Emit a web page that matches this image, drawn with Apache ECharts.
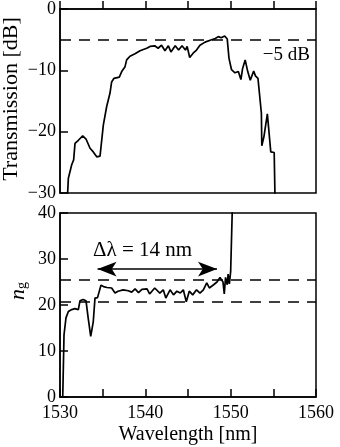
<!DOCTYPE html>
<html>
<head>
<meta charset="utf-8">
<script src="https://cdn.jsdelivr.net/npm/echarts@6/dist/echarts.min.js"></script>
<style>
    html, body { margin: 0; padding: 0; background: #fff; }
    #chart { width: 340px; height: 447px; }
</style>
</head>
<body>
<div id="chart"></div>
<script>
    // transmission spectrum (top panel)
    var topWl = [1530.86, 1530.98, 1531.37, 1531.6, 1531.76, 1532.15, 1532.66, 1533.05, 1533.52, 1533.9, 1534.3, 1534.69,
        1535.08, 1535.47, 1535.86, 1536.05, 1536.33, 1536.95, 1537.23, 1537.62, 1537.81, 1538.2, 1538.79, 1539.38,
        1540.16, 1540.55, 1541.1, 1541.5, 1541.9, 1542.3, 1542.7, 1543.0, 1543.5, 1543.9, 1544.3, 1544.7, 1544.9,
        1545.2, 1545.6, 1546.0, 1546.4, 1547.0, 1547.6, 1548.2, 1548.55, 1548.9, 1549.3, 1549.6, 1549.8, 1550.1,
        1550.5, 1550.9, 1551.2, 1551.4, 1551.7, 1552.0, 1552.3, 1552.7, 1552.9, 1553.2, 1553.6, 1553.65, 1553.9,
        1554.3, 1554.7, 1555.1, 1555.2];
    var topDb = [-31, -27.6, -25.4, -24.6, -21.9, -21.4, -20.7, -21.2, -22.7, -23.3, -24.1, -24.0,
        -18.9, -15.9, -13.7, -11.9, -11.3, -11.1, -10.2, -9.4, -8.3, -7.7, -7.3, -6.8,
        -6.4, -6.1, -6.0, -6.4, -5.9, -6.8, -6.0, -7.0, -6.0, -6.7, -6.0, -6.7, -6.1,
        -7.9, -7.2, -6.7, -5.9, -5.4, -5.1, -4.8, -4.5, -4.7, -4.4, -4.9, -8.0, -9.9,
        -10.4, -10.2, -11.5, -9.7, -8.3, -10.2, -11.6, -10.1, -10.9, -11.3, -17.0, -22.3, -20.8,
        -17.1, -23.3, -23.4, -31];

    // group index (bottom panel)
    var botWl = [1530.31, 1530.47, 1530.7, 1530.98, 1531.37, 1531.76, 1532.15, 1532.34, 1532.7, 1533.05, 1533.3, 1533.6,
        1533.9, 1534.1, 1534.4, 1534.6, 1534.8, 1535.1, 1535.5, 1536.05, 1536.45, 1536.8, 1537.4, 1538.0, 1538.4,
        1538.8, 1539.2, 1539.6, 1540.2, 1540.5, 1541.1, 1541.7, 1542.1, 1542.4, 1542.9, 1543.3, 1543.7, 1544.1,
        1544.45, 1544.8, 1545.15, 1545.55, 1546.0, 1546.4, 1546.8, 1547.2, 1547.5, 1548.0, 1548.4, 1548.75, 1549.1,
        1549.25, 1549.4, 1549.6, 1549.7, 1549.85, 1550.0, 1550.25];
    var botNg = [-1, 13.5, 17.2, 18.6, 19.0, 19.2, 19.0, 20.9, 21.2, 20.9, 17.2, 13.2,
        16.4, 21.5, 21.6, 21.9, 24.3, 24.0, 23.8, 23.7, 22.6, 23.0, 23.3, 23.1, 22.8,
        23.5, 22.7, 23.4, 23.5, 22.4, 23.7, 22.6, 23.3, 21.5, 23.3, 22.2, 23.0, 22.6,
        23.3, 20.7, 23.0, 22.2, 23.3, 22.6, 23.3, 24.8, 23.7, 24.4, 25.0, 26.0, 25.0,
        22.4, 26.0, 24.4, 26.7, 24.6, 27.3, 45];

    var topRef = -5;                 // dB
    var ngBand = [25.4, 20.7];       // dashed n_g levels
    var arrowRange = [1534.4, 1548.4];
    var arrowLevel = 27.8;

    function pairs(xs, ys) {
        return xs.map(function (x, i) { return [x, ys[i]]; });
    }
    function minus(v) {
        return String(v).replace('-', '\u2212');
    }

    var font = 'Liberation Serif';
    var axisLineStyle = { color: '#000', width: 1.5 };
    var dashed = { color: '#000', width: 1.5, type: [11, 8] };

    var chart = echarts.init(document.getElementById('chart'));
    chart.setOption({
        animation: false,
        textStyle: { fontFamily: font, color: '#000' },
        grid: [
            { left: 60, top: 9, width: 256, height: 184, outerBoundsMode: 'none', show: true, borderColor: '#000', borderWidth: 1.5 },
            { left: 60, top: 213, width: 256, height: 184, outerBoundsMode: 'none', show: true, borderColor: '#000', borderWidth: 1.5 }
        ],
        xAxis: [
            {
                gridIndex: 0, type: 'value', min: 1530, max: 1560, interval: 5,
                axisLine: { lineStyle: axisLineStyle },
                axisTick: { inside: true, length: 8, lineStyle: axisLineStyle },
                axisLabel: { show: false },
                splitLine: { show: false }
            },
            {
                gridIndex: 1, type: 'value', min: 1530, max: 1560, interval: 5,
                name: 'Wavelength [nm]', nameLocation: 'middle', nameGap: 28,
                nameTextStyle: { fontFamily: font, fontSize: 20, color: '#000' },
                axisLine: { lineStyle: axisLineStyle },
                axisTick: { inside: true, length: 8, lineStyle: axisLineStyle },
                axisLabel: {
                    fontFamily: font, fontSize: 18, color: '#000', margin: 7,
                    formatter: function (v) { return v % 10 === 0 ? v : ''; }
                },
                splitLine: { show: false }
            }
        ],
        yAxis: [
            {
                gridIndex: 0, type: 'value', min: -30, max: 0, interval: 10,
                axisLine: { lineStyle: axisLineStyle },
                axisTick: { inside: true, length: 8, lineStyle: axisLineStyle },
                axisLabel: { fontFamily: font, fontSize: 18, color: '#000', margin: 4, formatter: minus },
                splitLine: { show: false }
            },
            {
                gridIndex: 1, type: 'value', min: 0, max: 40, interval: 10,
                axisLine: { lineStyle: axisLineStyle },
                axisTick: { inside: true, length: 8, lineStyle: axisLineStyle },
                axisLabel: { fontFamily: font, fontSize: 18, color: '#000', margin: 4 },
                splitLine: { show: false }
            }
        ],
        series: [
            {
                type: 'line', xAxisIndex: 0, yAxisIndex: 0,
                data: pairs(topWl, topDb), showSymbol: false, clip: true,
                lineStyle: { color: '#000', width: 1.7 },
                markLine: {
                    silent: true, symbol: 'none',
                    label: { show: false },
                    lineStyle: dashed,
                    data: [{ yAxis: topRef }]
                }
            },
            {
                type: 'line', xAxisIndex: 1, yAxisIndex: 1,
                data: pairs(botWl, botNg), showSymbol: false, clip: true,
                lineStyle: { color: '#000', width: 1.7 },
                markLine: {
                    silent: true, symbol: 'none',
                    label: { show: false },
                    lineStyle: dashed,
                    data: [{ yAxis: ngBand[0] }, { yAxis: ngBand[1] }]
                }
            },
            {
                // Δλ arrow
                type: 'line', xAxisIndex: 1, yAxisIndex: 1, data: [],
                markLine: {
                    silent: true,
                    symbol: ['arrow', 'arrow'], symbolSize: [11, 19],
                    label: { show: false },
                    lineStyle: { color: '#000', width: 1.5, type: 'solid' },
                    data: [[{ coord: [arrowRange[0], arrowLevel] }, { coord: [arrowRange[1], arrowLevel] }]]
                }
            }
        ],
        graphic: [
            {
                type: 'text', x: 11, y: 99, rotation: Math.PI / 2,
                style: {
                    text: 'Transmission [dB]', align: 'center', verticalAlign: 'middle',
                    font: '22px "Liberation Serif"', fill: '#000'
                }
            },
            {
                type: 'text', x: 18, y: 291, rotation: Math.PI / 2,
                style: {
                    text: '{n|n}{g|g}', align: 'center', verticalAlign: 'middle',
                    rich: {
                        n: { fontFamily: font, fontSize: 22, fontStyle: 'italic', fill: '#000' },
                        g: { fontFamily: font, fontSize: 14, fill: '#000', padding: [9, 0, 0, 0] }
                    }
                }
            },
            {
                type: 'text', right: 30, top: 46,
                style: { text: '\u22125 dB', font: '19px "Liberation Serif"', fill: '#000' }
            },
            {
                type: 'text', left: 93, top: 240,
                style: { text: '\u0394\u03bb = 14 nm', font: '21px "Liberation Serif"', fill: '#000' }
            }
        ]
    });
</script>
</body>
</html>
